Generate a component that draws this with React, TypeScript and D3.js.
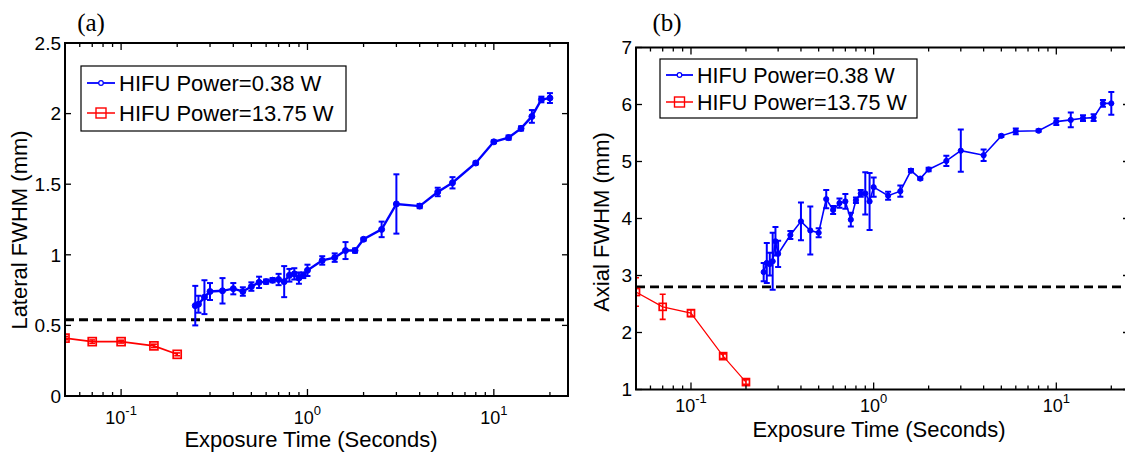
import React from "react";
import * as d3 from "d3";

// ---------- data ----------
const timesA = [0.25, 0.26, 0.28, 0.3, 0.35, 0.4, 0.45, 0.5, 0.55, 0.6, 0.65, 0.7, 0.75, 0.8, 0.85, 0.9, 0.95, 1.0, 1.2, 1.4, 1.6, 1.8, 2, 2.5, 3, 4, 5, 6, 8, 10, 12, 14, 16, 18, 20];
const lateralBlue = [0.64, 0.65, 0.7, 0.74, 0.745, 0.76, 0.74, 0.775, 0.805, 0.81, 0.82, 0.825, 0.81, 0.855, 0.865, 0.835, 0.855, 0.89, 0.96, 0.98, 1.03, 1.03, 1.11, 1.18, 1.36, 1.345, 1.445, 1.51, 1.65, 1.8, 1.83, 1.895, 1.98, 2.1, 2.11];
const lateralBlueErr = [0.14, 0.06, 0.12, 0.06, 0.09, 0.04, 0.03, 0.03, 0.04, 0.015, 0.015, 0.04, 0.11, 0.045, 0.04, 0.04, 0.02, 0.04, 0.03, 0.03, 0.06, 0.015, 0.01, 0.055, 0.21, 0.015, 0.03, 0.04, 0.01, 0.01, 0.015, 0.015, 0.045, 0.02, 0.035];

const redTimes = [0.05, 0.07, 0.1, 0.15, 0.2];
const lateralRed = [0.41, 0.385, 0.385, 0.355, 0.295];
const lateralRedErr = [0.012, 0.012, 0.01, 0.012, 0.01];

const timesB = [0.25, 0.26, 0.27, 0.28, 0.29, 0.3, 0.35, 0.4, 0.45, 0.5, 0.55, 0.6, 0.65, 0.7, 0.75, 0.8, 0.85, 0.9, 0.95, 1.0, 1.2, 1.4, 1.6, 1.8, 2, 2.5, 3, 4, 5, 6, 8, 10, 12, 14, 16, 18, 20];
const axialBlue = [3.06, 3.22, 3.2, 3.25, 3.6, 3.38, 3.71, 3.95, 3.79, 3.75, 4.34, 4.15, 4.27, 4.3, 3.98, 4.32, 4.44, 4.44, 4.3, 4.55, 4.4, 4.48, 4.84, 4.7, 4.86, 5.01, 5.19, 5.11, 5.45, 5.53, 5.54, 5.7, 5.73, 5.76, 5.77, 6.02, 6.02];
const axialBlueErr = [0.16, 0.35, 0.2, 0.5, 0.25, 0.23, 0.07, 0.33, 0.42, 0.08, 0.16, 0.07, 0.08, 0.13, 0.12, 0.05, 0.06, 0.37, 0.5, 0.17, 0.07, 0.1, 0.03, 0.02, 0.03, 0.09, 0.37, 0.1, 0.02, 0.05, 0.02, 0.06, 0.13, 0.05, 0.06, 0.06, 0.2];
const axialRed = [2.71, 2.45, 2.34, 1.585, 1.13];
const axialRedErr = [0.25, 0.22, 0.06, 0.04, 0.04];

const lateralThreshold = 0.54;
const axialThreshold = 2.8;

const yTicksA = [0, 0.5, 1, 1.5, 2, 2.5];
const yTicksB = [1, 2, 3, 4, 5, 6, 7];
const xDecades = [0.1, 1, 10];
const xDecadeExponents = ["-1", "0", "1"];
const xDomain = [0.05, 25];
const legendLabels = ["HIFU Power=0.38 W", "HIFU Power=13.75 W"];
const panelTitles = ["(a)", "(b)"];
const yLabels = ["Lateral FWHM (mm)", "Axial FWHM (mm)"];
const xLabel = "Exposure Time (Seconds)";

const SANS = "'Liberation Sans', Arial, Helvetica, sans-serif";
const SERIF = "'Liberation Serif', 'Times New Roman', serif";
const BLUE = "#0000ff";
const RED = "#ff0000";

type PanelProps = {
  left: number; right: number; top: number; bottom: number;
  yDomain: [number, number];
  yTicks: number[];
  blueX: number[]; blueY: number[]; blueErr: number[];
  redY: number[]; redErr: number[];
  threshold: number;
  title: string; titleX: number;
  yLabel: string; yLabelX: number; yLabelY: number;
  xLabelX: number; xLabelY: number; xTickY: number;
  legend: { x: number; y: number; w: number; h: number; row1: number; row2: number; lineX0: number; lineX1: number; textX: number; fs: number };
  blueW: number; redW: number; sq: number; dotR: number;
};

function Panel(p: PanelProps) {
  const x = d3.scaleLog().domain(xDomain).range([p.left, p.right]);
  const y = d3.scaleLinear().domain(p.yDomain).range([p.bottom, p.top]);

  const minor: { v: number; major: boolean }[] = [];
  [0.01, 0.1, 1, 10].forEach((d) => {
    for (let k = 1; k <= 9; k++) {
      const v = k * d;
      if (v > xDomain[0] * 1.001 && v < xDomain[1] * 0.999) minor.push({ v, major: k === 1 });
    }
  });

  const line = d3.line<[number, number]>().x((d) => x(d[0])).y((d) => y(d[1]));
  const bluePts: [number, number][] = p.blueX.map((t, i) => [t, p.blueY[i]]);
  const redPts: [number, number][] = redTimes.map((t, i) => [t, p.redY[i]]);
  const cap = 3;

  return (
    <g>
      <defs>
        <clipPath id={"clip" + p.left}>
          <rect x={p.left} y={p.top - 10} width={p.right - p.left} height={p.bottom - p.top + 20} />
        </clipPath>
      </defs>
      <text x={p.titleX} y={31} fontFamily={SERIF} fontSize={25} textAnchor="middle">{p.title}</text>

      <line x1={p.left} x2={p.right} y1={y(p.threshold)} y2={y(p.threshold)} stroke="#000" strokeWidth={2.8} strokeDasharray="9,5" />

      <g clipPath={`url(#clip${p.left})`}>
        <path d={line(bluePts) || ""} fill="none" stroke={BLUE} strokeWidth={p.blueW} />
        {bluePts.map((d, i) => {
          const cx = x(d[0]);
          const yt = y(d[1] + p.blueErr[i]);
          const yb = y(d[1] - p.blueErr[i]);
          return (
            <g key={"b" + i} stroke={BLUE} strokeWidth={2}>
              <line x1={cx} x2={cx} y1={yt} y2={yb} />
              <line x1={cx - cap} x2={cx + cap} y1={yt} y2={yt} />
              <line x1={cx - cap} x2={cx + cap} y1={yb} y2={yb} />
              <circle cx={cx} cy={y(d[1])} r={p.dotR} fill={BLUE} strokeWidth={1} />
            </g>
          );
        })}
        <path d={line(redPts) || ""} fill="none" stroke={RED} strokeWidth={p.redW} />
        {redPts.map((d, i) => {
          const cx = x(d[0]);
          const yt = y(d[1] + p.redErr[i]);
          const yb = y(d[1] - p.redErr[i]);
          return (
            <g key={"r" + i} stroke={RED} strokeWidth={1.6}>
              <line x1={cx} x2={cx} y1={yt} y2={yb} />
              <line x1={cx - cap} x2={cx + cap} y1={yt} y2={yt} />
              <line x1={cx - cap} x2={cx + cap} y1={yb} y2={yb} />
              <rect x={cx - p.sq / 2} y={y(d[1]) - p.sq / 2} width={p.sq} height={p.sq} fill="none" strokeWidth={1.7} />
            </g>
          );
        })}
      </g>

      <rect x={p.left} y={p.top} width={p.right - p.left} height={p.bottom - p.top} fill="none" stroke="#000" strokeWidth={2} />

      {minor.map((t, i) => {
        const px = x(t.v);
        const len = t.major ? 7 : 4;
        return (
          <g key={"xt" + i} stroke="#000" strokeWidth={1.3}>
            <line x1={px} x2={px} y1={p.bottom} y2={p.bottom - len} />
            <line x1={px} x2={px} y1={p.top} y2={p.top + len} />
          </g>
        );
      })}
      {xDecades.map((v, i) => (
        <text key={"xl" + i} x={x(v)} y={p.xTickY} fontFamily={SANS} fontSize={18} textAnchor="middle">
          <tspan>10</tspan>
          <tspan dy={-9} fontSize={13}>{xDecadeExponents[i]}</tspan>
        </text>
      ))}

      {p.yTicks.map((v, i) => (
        <g key={"yt" + i}>
          <line x1={p.left} x2={p.left + 6} y1={y(v)} y2={y(v)} stroke="#000" strokeWidth={1.3} />
          <line x1={p.right} x2={p.right - 6} y1={y(v)} y2={y(v)} stroke="#000" strokeWidth={1.3} />
          <text x={p.left - 4} y={y(v)} dy="0.36em" fontFamily={SANS} fontSize={19} textAnchor="end">{d3.format("")(v)}</text>
        </g>
      ))}

      <text x={p.xLabelX} y={p.xLabelY} fontFamily={SANS} fontSize={22} textAnchor="middle">{xLabel}</text>
      <text transform={`translate(${p.yLabelX},${p.yLabelY}) rotate(-90)`} fontFamily={SANS} fontSize={22} textAnchor="middle">{p.yLabel}</text>

      <g>
        <rect x={p.legend.x} y={p.legend.y} width={p.legend.w} height={p.legend.h} fill="#fff" stroke="#000" strokeWidth={1.2} />
        <line x1={p.legend.lineX0} x2={p.legend.lineX1} y1={p.legend.row1} y2={p.legend.row1} stroke={BLUE} strokeWidth={1.8} />
        <circle cx={(p.legend.lineX0 + p.legend.lineX1) / 2} cy={p.legend.row1} r={2.3} fill="#fff" stroke={BLUE} strokeWidth={1.2} />
        <text x={p.legend.textX} y={p.legend.row1} dy="0.36em" fontFamily={SANS} fontSize={p.legend.fs}>{legendLabels[0]}</text>
        <line x1={p.legend.lineX0} x2={p.legend.lineX1} y1={p.legend.row2} y2={p.legend.row2} stroke={RED} strokeWidth={1.5} />
        <rect x={(p.legend.lineX0 + p.legend.lineX1) / 2 - 5} y={p.legend.row2 - 5} width={10} height={10} fill="none" stroke={RED} strokeWidth={1.4} />
        <text x={p.legend.textX} y={p.legend.row2} dy="0.36em" fontFamily={SANS} fontSize={p.legend.fs}>{legendLabels[1]}</text>
      </g>
    </g>
  );
}

export default function App() {
  return (
    <svg width={1125} height={452} style={{ position: "absolute", left: 0, top: 0, background: "#fff" }}>
      <rect x={0} y={0} width={1125} height={452} fill="#fff" />
      <Panel
        left={65} right={568} top={43} bottom={396}
        yDomain={[0, 2.5]} yTicks={yTicksA}
        blueX={timesA} blueY={lateralBlue} blueErr={lateralBlueErr}
        redY={lateralRed} redErr={lateralRedErr}
        threshold={lateralThreshold}
        title={panelTitles[0]} titleX={91}
        yLabel={yLabels[0]} yLabelX={27} yLabelY={230}
        xLabelX={311} xLabelY={447} xTickY={424}
        legend={{ x: 81, y: 66, w: 265, h: 65, row1: 83, row2: 113, lineX0: 87, lineX1: 115, textX: 119, fs: 22 }}
        blueW={2.4} redW={1.6} sq={8} dotR={3}
      />
      <Panel
        left={636} right={1129} top={47.5} bottom={389.5}
        yDomain={[1, 7]} yTicks={yTicksB}
        blueX={timesB} blueY={axialBlue} blueErr={axialBlueErr}
        redY={axialRed} redErr={axialRedErr}
        threshold={axialThreshold}
        title={panelTitles[1]} titleX={667}
        yLabel={yLabels[1]} yLabelX={609} yLabelY={222}
        xLabelX={879} xLabelY={437} xTickY={412}
        legend={{ x: 660, y: 59, w: 257, h: 59, row1: 75, row2: 102, lineX0: 666, lineX1: 693, textX: 697, fs: 21.5 }}
        blueW={1.6} redW={1.2} sq={7} dotR={2.6}
      />
    </svg>
  );
}
